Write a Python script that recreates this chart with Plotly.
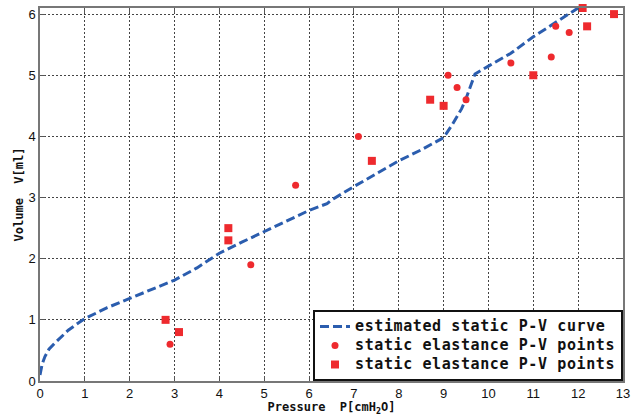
import plotly.graph_objects as go

# estimated static P-V curve
curve_p = [0, 0.05, 0.11, 0.2, 0.33, 0.5, 0.63, 0.8, 1.0, 1.5, 2.0, 2.5, 3.0, 3.5, 4.0, 4.5, 5.0,
           5.5, 6.0, 6.4, 6.5, 7.0, 7.5, 8.0, 8.5, 9.0, 9.2, 9.4, 9.5, 9.6, 9.7, 10.0, 10.5,
           11.0, 11.5, 12.0]
curve_v = [0.1, 0.28, 0.4, 0.52, 0.62, 0.74, 0.83, 0.92, 1.02, 1.2, 1.35, 1.5, 1.65, 1.85, 2.09,
           2.27, 2.44, 2.62, 2.79, 2.9, 2.96, 3.18, 3.39, 3.6, 3.78, 3.98, 4.2, 4.45, 4.62,
           4.82, 5.02, 5.15, 5.36, 5.63, 5.86, 6.1]

# static elastance P-V points (circles)
circ_p = [2.9, 4.7, 5.7, 7.1, 9.1, 9.3, 9.5, 10.5, 11.4, 11.5, 11.8]
circ_v = [0.6, 1.9, 3.2, 4.0, 5.0, 4.8, 4.6, 5.2, 5.3, 5.8, 5.7]

# static elastance P-V points (squares)
sq_p = [2.8, 3.1, 4.2, 4.2, 7.4, 8.7, 9.0, 11.0, 12.1, 12.2, 12.8]
sq_v = [1.0, 0.8, 2.5, 2.3, 3.6, 4.6, 4.5, 5.0, 6.1, 5.8, 6.0]

x_ticks = list(range(0, 14))
y_ticks = list(range(0, 7))

red = "#EE2A2E"
blue = "#2B5DAE"

fig = go.Figure()
fig.add_trace(go.Scatter(x=curve_p, y=curve_v, mode="lines", name="estimated static P-V curve",
                         line=dict(color=blue, width=3, dash="9px,4px"), cliponaxis=True))
fig.add_trace(go.Scatter(x=circ_p, y=circ_v, mode="markers", name="static elastance P-V points",
                         marker=dict(symbol="circle", size=7, color=red), cliponaxis=False))
fig.add_trace(go.Scatter(x=sq_p, y=sq_v, mode="markers", name="static elastance P-V points",
                         marker=dict(symbol="square", size=8, color=red), cliponaxis=False))

tickfont = dict(family="Liberation Sans Narrow, Liberation Sans, sans-serif", size=13, color="#111")
titlefont = dict(family="DejaVu Sans Mono, monospace", size=12, color="#111", weight="bold")

axis_common = dict(showgrid=True, gridcolor="#444", griddash="2px,2px", gridwidth=1,
                   showline=True, linecolor="#777", linewidth=1.5, mirror="ticks",
                   ticks="inside", ticklen=5, tickcolor="#555", zeroline=False,
                   tickfont=tickfont, automargin=False)

fig.update_layout(
    width=637, height=416,
    margin=dict(l=40, r=14, t=8, b=35),
    paper_bgcolor="white", plot_bgcolor="white",
    xaxis=dict(range=[0, 13], tickvals=x_ticks, ticklabelstandoff=0,
               title=dict(text="Pressure  P[cmH<sub>2</sub>O]", font=titlefont, standoff=2),
               **axis_common),
    yaxis=dict(range=[0, 6.1], tickvals=y_ticks,
               title=dict(text="Volume  V[ml]", font=titlefont, standoff=2),
               **axis_common),
    legend=dict(x=1, y=0, xanchor="right", yanchor="bottom",
                bgcolor="white", bordercolor="#111", borderwidth=2,
                font=dict(family="DejaVu Sans Mono, monospace", size=12, color="#111", weight="bold"),
                tracegroupgap=0, itemwidth=30),
    showlegend=True,
)

post = (
    "document.body.style.margin='0';document.body.style.padding='0';"
    "var s=document.createElement('style');"
    "s.innerHTML='.legendtext{letter-spacing:0.6px;font-size:15px !important}';"
    "document.head.appendChild(s);"
    "var gd=document.getElementById('{plot_id}');"
    "Plotly.relayout(gd,{'legend.font.size':11});"
)

fig.write_html("out.html", config={"displayModeBar": False}, post_script=post)
